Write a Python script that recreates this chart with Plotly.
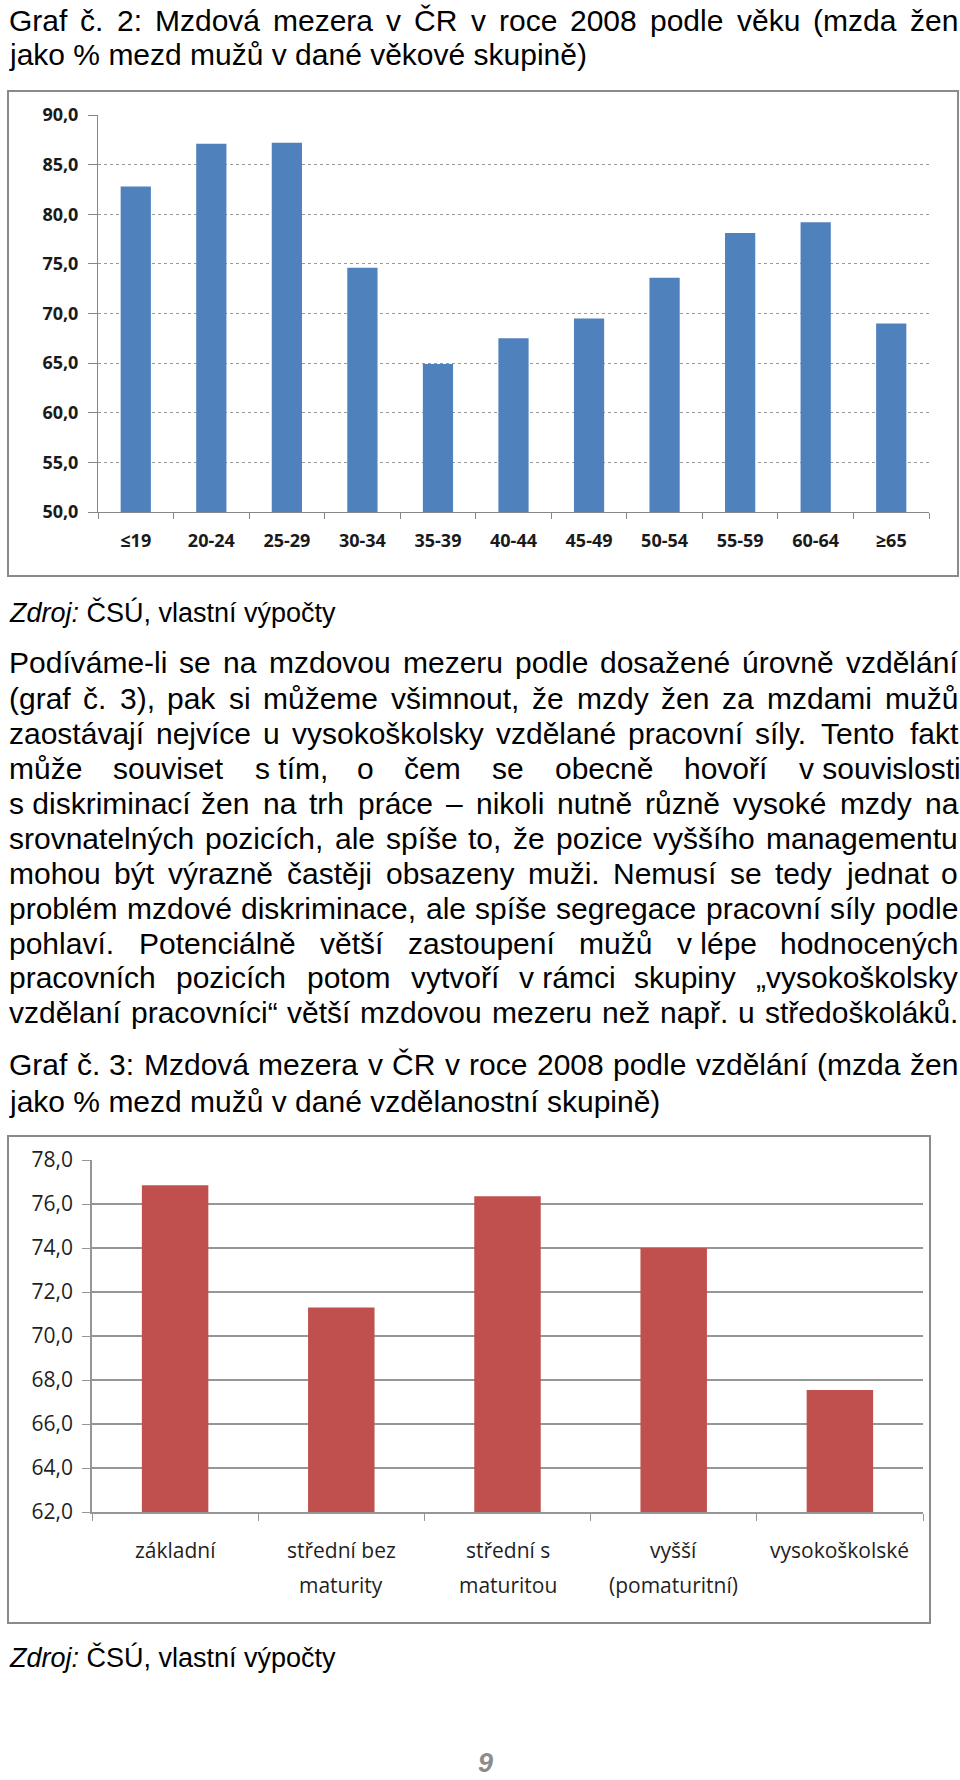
import unicodedata
import plotly.graph_objects as go

# ---------------- data ----------------
age_groups = ["≤19", "20-24", "25-29", "30-34", "35-39", "40-44",
              "45-49", "50-54", "55-59", "60-64", "≥65"]
age_values = [82.8, 87.1, 87.2, 74.6, 64.9, 67.5, 69.5, 73.6, 78.1, 79.2, 69.0]
age_ticks = [50, 55, 60, 65, 70, 75, 80, 85, 90]

edu_groups = ["základní", "střední bez maturity", "střední s maturitou",
              "vyšší (pomaturitní)", "vysokoškolské"]
edu_label_lines = [["základní"], ["střední bez", "maturity"],
                   ["střední s", "maturitou"], ["vyšší", "(pomaturitní)"],
                   ["vysokoškolské"]]
edu_values = [76.85, 71.3, 76.35, 74.0, 67.55]
edu_ticks = [62, 64, 66, 68, 70, 72, 74, 76, 78]

title2_lines = ["Graf č. 2: Mzdová mezera v ČR v roce 2008 podle věku (mzda žen",
                "jako % mezd mužů v dané věkové skupině)"]
title3_lines = ["Graf č. 3: Mzdová mezera v ČR v roce 2008 podle vzdělání (mzda žen",
                "jako % mezd mužů v dané vzdělanostní skupině)"]
body_lines = [
    "Podíváme-li se na mzdovou mezeru podle dosažené úrovně vzdělání",
    "(graf č. 3), pak si můžeme všimnout, že mzdy žen za mzdami mužů",
    "zaostávají nejvíce u vysokoškolsky vzdělané pracovní síly. Tento fakt",
    "může souviset s\u00a0tím, o čem se obecně hovoří v\u00a0souvislosti",
    "s\u00a0diskriminací žen na trh práce – nikoli nutně různě vysoké mzdy na",
    "srovnatelných pozicích, ale spíše to, že pozice vyššího managementu",
    "mohou být výrazně častěji obsazeny muži. Nemusí se tedy jednat o",
    "problém mzdové diskriminace, ale spíše segregace pracovní síly podle",
    "pohlaví. Potenciálně větší zastoupení mužů v\u00a0lépe hodnocených",
    "pracovních pozicích potom vytvoří v\u00a0rámci skupiny „vysokoškolsky",
    "vzdělaní pracovníci“ větší mzdovou mezeru než např. u středoškoláků.",
]
source_text = "<i>Zdroj:</i> ČSÚ, vlastní výpočty"
page_number = "9"

# ---------------- helpers ----------------
W, H = 960, 1780


def px(x):
    return x / W


def py(y):
    return 1 - y / H


ARIAL = {
    ' ': 278, '\u00a0': 200, '!': 278, '"': 355, '%': 889, '(': 333, ')': 333,
    ',': 278, '-': 333, '.': 278, ':': 278, '–': 556, '„': 333, '“': 333,
    'a': 556, 'b': 556, 'c': 500, 'd': 556, 'e': 556, 'f': 278, 'g': 556,
    'h': 556, 'i': 222, 'j': 222, 'k': 500, 'l': 222, 'm': 833, 'n': 556,
    'o': 556, 'p': 556, 'q': 556, 'r': 333, 's': 500, 't': 278, 'u': 556,
    'v': 500, 'w': 722, 'x': 500, 'y': 500, 'z': 500,
    'A': 667, 'B': 667, 'C': 722, 'D': 722, 'E': 667, 'F': 611, 'G': 778,
    'H': 722, 'I': 278, 'J': 500, 'K': 667, 'L': 556, 'M': 833, 'N': 722,
    'O': 778, 'P': 667, 'Q': 778, 'R': 722, 'S': 667, 'T': 611, 'U': 722,
    'V': 667, 'W': 944, 'X': 667, 'Y': 667, 'Z': 611,
}
SPECIAL = {'í': 278, 'ď': 615, 'ť': 375}


def text_width(s, size):
    total = 0
    for ch in s:
        if ch in ARIAL:
            total += ARIAL[ch]
        elif ch in SPECIAL:
            total += SPECIAL[ch]
        elif ch.isdigit():
            total += 556
        else:
            base = unicodedata.normalize('NFD', ch)[0]
            total += ARIAL.get(base, 556)
    return total * size / 1000.0


annotations = []
BODY_FONT = "Liberation Sans, Arial, sans-serif"


def add_text_line(text, y, size=30, justify=True, x0=8, x1=957, color="#000000"):
    words = text.split(' ')
    if not justify or len(words) == 1:
        annotations.append(dict(x=px(x0), y=py(y), xref="paper", yref="paper",
                                text=text, showarrow=False, xanchor="left",
                                yanchor="middle", borderpad=0,
                                font=dict(family=BODY_FONT, size=size, color=color)))
        return
    widths = [text_width(w, size) for w in words]
    gap = (x1 - x0 - sum(widths)) / (len(words) - 1)
    x = x0
    for w, wd in zip(words, widths):
        annotations.append(dict(x=px(x), y=py(y), xref="paper", yref="paper",
                                text=w, showarrow=False, xanchor="left",
                                yanchor="middle", borderpad=0,
                                font=dict(family=BODY_FONT, size=size, color=color)))
        x += wd + gap


# titles and text
add_text_line(title2_lines[0], 20, justify=True)
add_text_line(title2_lines[1], 54, justify=False)
add_text_line(source_text, 613, size=27, justify=False)
for i, line in enumerate(body_lines):
    add_text_line(line, 663 + 35 * i, justify=True)
add_text_line(title3_lines[0], 1064, justify=True)
add_text_line(title3_lines[1], 1101, justify=False)
add_text_line(source_text, 1657, size=27, justify=False)
annotations.append(dict(x=px(485), y=py(1779), xref="paper", yref="paper",
                        text="<b><i>" + page_number + "</i></b>", showarrow=False,
                        xanchor="center", yanchor="bottom", borderpad=0,
                        font=dict(family=BODY_FONT, size=27, color="#8c8c8c")))

# chart 2 category labels (two-line, placed on the category axis)
for i, lines in enumerate(edu_label_lines):
    for j, line in enumerate(lines):
        annotations.append(dict(x=edu_groups[i], xref="x2", y=py(1550 + 35 * j),
                                yref="paper", text=line, showarrow=False,
                                xanchor="center", yanchor="middle",
                                font=dict(family="Open Sans, sans-serif", size=21,
                                          color="#1f1f1f")))

# ---------------- figure ----------------
fig = go.Figure()
fig.add_trace(go.Bar(x=age_groups, y=age_values, xaxis="x", yaxis="y",
                     marker=dict(color="#4f81bd", line=dict(width=0)), width=0.4,
                     hoverinfo="x+y"))
fig.add_trace(go.Bar(x=edu_groups, y=edu_values, xaxis="x2", yaxis="y2",
                     marker=dict(color="#c0504d", line=dict(width=0)), width=0.4,
                     hoverinfo="x+y"))

axis_gray = "#868686"
fig.update_layout(
    width=W, height=H,
    margin=dict(l=0, r=0, t=0, b=0),
    paper_bgcolor="white", plot_bgcolor="white",
    showlegend=False,
    separators=", ",
    template="none",
    xaxis=dict(domain=[px(98), px(929)], anchor="y", showline=True,
               linecolor=axis_gray, linewidth=1, ticks="outside",
               tickson="boundaries", ticklen=6, tickcolor=axis_gray,
               showgrid=False, zeroline=False, ticklabelstandoff=12,
               tickfont=dict(family="Open Sans, sans-serif", size=18,
                             color="#1a1a1a", weight="bold")),
    yaxis=dict(domain=[py(512), py(115)], anchor="x", range=[50, 90],
               tickvals=age_ticks, tickformat=".1f", showline=True,
               linecolor=axis_gray, linewidth=1, ticks="outside", ticklen=9,
               tickcolor=axis_gray, showgrid=True, gridcolor="#9a9a9a",
               griddash="dot", gridwidth=1, zeroline=False,
               ticklabelstandoff=6,
               tickfont=dict(family="Open Sans, sans-serif", size=18,
                             color="#1a1a1a", weight="bold")),
    xaxis2=dict(domain=[px(92), px(923)], anchor="y2", showline=True,
                linecolor="#969696", linewidth=1.5, ticks="outside",
                tickson="boundaries", ticklen=7, tickcolor="#969696",
                showgrid=False, zeroline=False, showticklabels=False),
    yaxis2=dict(domain=[py(1512), py(1160)], anchor="x2", range=[62, 78],
                tickvals=edu_ticks, tickformat=".1f", showline=True,
                linecolor="#969696", linewidth=1.5, ticks="outside", ticklen=8,
                tickcolor="#969696", showgrid=True, gridcolor="#969696",
                gridwidth=1.5, zeroline=False, ticklabelstandoff=5,
                tickfont=dict(family="Open Sans, sans-serif", size=21,
                              color="#1f1f1f")),
    annotations=annotations,
    shapes=[
        dict(type="rect", xref="paper", yref="paper", x0=px(8), x1=px(958),
             y0=py(576), y1=py(91), line=dict(color="#8a8a8a", width=2),
             fillcolor="rgba(0,0,0,0)", layer="below"),
        dict(type="rect", xref="paper", yref="paper", x0=px(8), x1=px(930),
             y0=py(1623), y1=py(1136), line=dict(color="#8a8a8a", width=2),
             fillcolor="rgba(0,0,0,0)", layer="below"),
    ],
)

fig.write_html("out.html")
